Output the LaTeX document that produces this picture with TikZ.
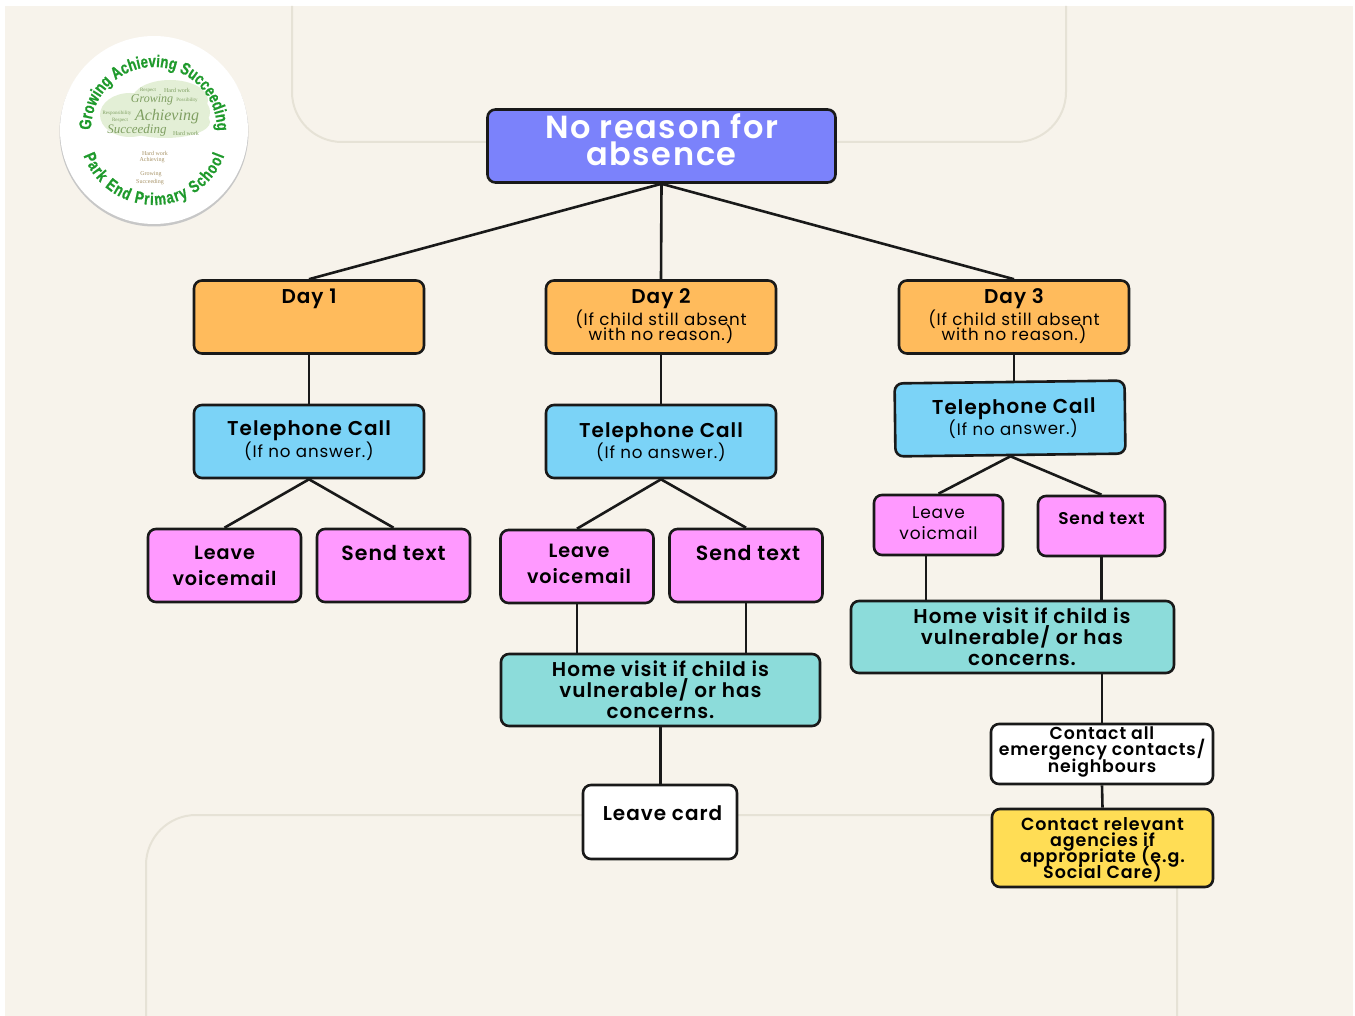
\documentclass[tikz,border=0pt]{standalone}
\usepackage{fontspec}
\setmainfont[LetterSpace=5, BoldFont={Poppins SemiBold}]{Poppins}
\newfontfamily\logofont[FakeStretch=0.78, FakeBold=0.7]{Liberation Sans}
\newfontfamily\wordfont{Liberation Serif}
\usetikzlibrary{decorations.text}
\lineskiplimit=-100pt
\definecolor{paper}{HTML}{F7F3EB}
\definecolor{panelline}{HTML}{E6E2D6}
\definecolor{titleblue}{HTML}{7B82FB}
\definecolor{dayorange}{HTML}{FFBB5C}
\definecolor{callblue}{HTML}{7BD3F7}
\definecolor{voicepink}{HTML}{FF99FF}
\definecolor{visitteal}{HTML}{8CDCDA}
\definecolor{agencyyellow}{HTML}{FFDD55}
\definecolor{logogreen}{HTML}{1F9A2C}
\definecolor{canopy}{HTML}{E3EFD6}
\definecolor{leafword}{HTML}{7F9F62}
\definecolor{trunkword}{HTML}{A89468}
\tikzset{
  flowbox/.style={draw=black!90, line width=2.6pt, rounded corners=8pt, align=center, inner sep=0pt,
    font=\fontsize{16.7}{15}\selectfont},
  titlebox/.style={flowbox, fill=titleblue, text=white, minimum width=348pt, minimum height=73pt,
    font=\bfseries\fontsize{32}{26.5}\selectfont},
  daybox/.style={flowbox, fill=dayorange, minimum width=230pt, minimum height=73pt},
  callbox/.style={flowbox, fill=callblue, minimum width=230pt, minimum height=73pt},
  voicebox/.style={flowbox, fill=voicepink, minimum width=153pt, minimum height=73pt,
    font=\bfseries\fontsize{19.2}{26}\selectfont},
  visitbox/.style={flowbox, fill=visitteal, minimum height=72pt,
    font=\bfseries\fontsize{20}{21}\selectfont},
  whitebox/.style={flowbox, fill=white, font=\bfseries\fontsize{17.3}{16.5}\selectfont},
  agencybox/.style={flowbox, fill=agencyyellow, minimum width=221pt, minimum height=78pt,
    font=\bfseries\fontsize{17.5}{16.2}\selectfont},
  link/.style={line width=2.6pt, black!90},
  leafword/.style={font=\wordfont\fontsize{#1}{#1}\selectfont, text=leafword, inner sep=0pt},
  trunkword/.style={font=\wordfont\fontsize{#1}{#1}\selectfont, text=trunkword, inner sep=0pt}
}
\newcommand{\fabox}[4] {\node at (#1) (#2) [#3] {#4};}
\newcommand{\falink}[2] {\draw [link] (#1) -- (#2);}
\newcommand{\fahead}[1] {{\bfseries\fontsize{20}{15}\selectfont #1}}
\newcommand{\fanudge}[1] {\hspace*{#1pt}}
\begin{document}
\begin{tikzpicture}[x=1pt, y=-1pt]
\useasboundingbox (0,0) rectangle (1355,1016);
\fill [paper] (5,6) rectangle (1353,1016);
\draw [panelline, line width=2pt] (292,6) -- (292,92) arc[start angle=180, end angle=270, radius=50pt] -- (1016,142) arc[start angle=270, end angle=360, radius=50pt] -- (1066,6);
\draw [panelline, line width=2pt] (146,1016) -- (146,865) arc[start angle=180, end angle=90, radius=50pt] -- (1127,815) arc[start angle=90, end angle=0, radius=50pt] -- (1177,1016);

% school badge
\fill [black!22] (154,132) circle (94.5pt);
\node at (154,130) (badge) [circle, fill=white, minimum size=188pt, inner sep=0pt] {};
\fill [canopy] (130,115) ellipse (30pt and 22pt);
\fill [canopy] (170,100) ellipse (38pt and 20pt);
\fill [canopy] (165,122) ellipse (45pt and 16pt);
\fill [canopy] (185,112) ellipse (25pt and 18pt);
\node at (152,100) (growing) [leafword=12] {\itshape Growing};
\node at (167,117) (achieving) [leafword=16] {\itshape Achieving};
\node at (137,130) (succeeding) [leafword=13] {\itshape Succeeding};
\node at (177,90) (hardworka) [leafword=6] {Hard work};
\node at (186,133) (hardworkb) [leafword=6] {Hard work};
\node at (148,90) (respecta) [leafword=5] {Respect};
\node at (187,100) (possibility) [leafword=5] {Possibility};
\node at (117,113) (responsibility) [leafword=5] {Responsibility};
\node at (120,120) (respectb) [leafword=5] {Respect};
\node at (155,153) (hardworkc) [trunkword=6] {Hard work};
\node at (152,160) (trunkachieving) [trunkword=6] {Achieving};
\node at (151,174) (trunkgrowing) [trunkword=6] {Growing};
\node at (150,182) (trunksucceeding) [trunkword=6] {Succeeding};
\path [decorate, decoration={text along path, text align=fit to path,
  text={|\logofont\bfseries\fontsize{17}{17}\selectfont\color{logogreen}|Growing Achieving  Succeeding}}]
  (91,130) arc[start angle=180, end angle=0, radius=63pt];
\path [decorate, decoration={text along path, text align=fit to path,
  text={|\logofont\bfseries\fontsize{17}{17}\selectfont\color{logogreen}|Park End Primary School}}]
  (83.5,155.6) arc[start angle=200, end angle=340, radius=75pt];

% boxes
\fabox {661.5,146} {absence} {titlebox, text depth=13pt} {No reason for\\absence}
\fabox {309,317} {day1} {daybox, text depth=42pt} {\fahead{Day 1}}
\fabox {661,317} {day2} {daybox, text depth=5pt} {\fahead{Day 2}\\[7pt](If child still absent\\with no reason.)}
\fabox {1014,317} {day3} {daybox, text depth=5pt} {\fahead{Day 3}\\[7pt](If child still absent\\with no reason.)}
\fabox {309,441.5} {call1} {callbox, text depth=5pt} {\fahead{Telephone Call}\\[7pt](If no answer.)}
\fabox {661,441.5} {call2} {callbox, text depth=1pt} {\fahead{Telephone Call}\\[6pt](If no answer.)}
\fabox {1010,418.5} {call3} {callbox, rotate=0.7, text depth=3pt} {\fanudge{8}\fahead{Telephone Call}\\[6pt]\fanudge{6}(If no answer.)}
\fabox {224.5,565.5} {voicemail1} {voicebox} {Leave\\voicemail}
\fabox {393.5,565.5} {text1} {voicebox, text depth=26pt, font=\bfseries\fontsize{20.5}{26}\selectfont} {Send text}
\fabox {577,566.5} {voicemail2} {voicebox, text depth=6pt} {\fanudge{4}Leave\\\fanudge{4}voicemail}
\fabox {746,565.5} {text2} {voicebox, text depth=26pt, font=\bfseries\fontsize{20.5}{26}\selectfont} {\fanudge{4}Send text}
\fabox {938.5,525} {voicemail3} {voicebox, minimum width=129pt, minimum height=60pt, text depth=4pt, font=\fontsize{17}{21}\selectfont} {Leave\\voicmail}
\fabox {1101.5,526} {text3} {voicebox, minimum width=127pt, minimum height=60pt, text depth=16pt, font=\bfseries\fontsize{17}{20}\selectfont} {Send text}
\fabox {660.5,690} {visit2} {visitbox, minimum width=319pt} {Home visit if child is\\vulnerable/ or has\\concerns.}
\fabox {1012.5,637} {visit3} {visitbox, minimum width=323pt} {\fanudge{19}Home visit if child is\\\fanudge{19}vulnerable/ or has\\\fanudge{19}concerns.}
\fabox {660,822} {card} {whitebox, minimum width=154pt, minimum height=74pt, text depth=18pt, font=\bfseries\fontsize{20}{21}\selectfont} {\fanudge{5}Leave card}
\fabox {1102,754} {contacts} {whitebox, minimum width=222pt, minimum height=60pt, text depth=9pt} {Contact all\\emergency contacts/\\neighbours}
\fabox {1102.5,848} {agencies} {agencybox, text depth=0pt} {Contact relevant\\agencies if\\appropriate (e.g.\\Social Care)}

% free ends of the two offset links
\coordinate (voicefoot) at (926,555);
\coordinate (voicedrop) at (926,601);

\falink{absence.south}{day1.north}
\falink{absence.south}{day2.north}
\falink{absence.south}{day3.north}
\falink{day1.south}{call1.north}
\falink{day2.south}{call2.north}
\falink{day3.south}{day3.south |- call3.north}
\falink{call1.south}{voicemail1.north}
\falink{call1.south}{text1.north}
\falink{call2.south}{voicemail2.north}
\falink{call2.south}{text2.north}
\falink{call3.south}{voicemail3.north}
\falink{call3.south}{text3.north}
\falink{voicemail2.south}{voicemail2.south |- visit2.north}
\falink{text2.south}{text2.south |- visit2.north}
\falink{voicefoot}{voicedrop}
\falink{text3.south}{text3.south |- visit3.north}
\falink{visit2.south}{visit2.south |- card.north}
\falink{contacts.north}{contacts.north |- visit3.south}
\falink{contacts.south}{agencies.north}
\end{tikzpicture}
\end{document}
